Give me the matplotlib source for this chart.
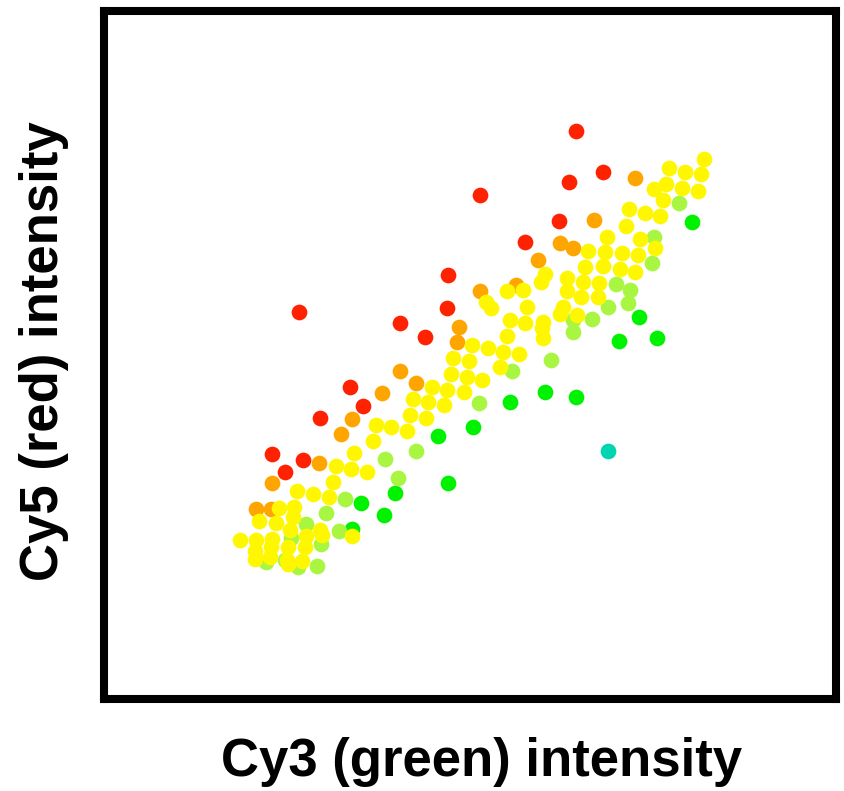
import matplotlib
matplotlib.use("Agg")
import matplotlib.pyplot as plt

# spot intensities (arbitrary units), grouped by log-ratio colour class
red_x = [472, 499, 465, 376, 455, 421, 344, 343, 195, 296, 321, 246, 259, 216, 168, 199, 181]
red_y = [568, 527, 517, 504, 478, 457, 424, 391, 387, 376, 362, 312, 293, 281, 245, 239, 227]

orange_x = [531, 490, 456, 469, 434, 376, 412, 355, 353, 296, 312, 278, 248, 237, 215, 168, 152, 167]
orange_y = [521, 479, 456, 451, 439, 408, 414, 372, 357, 328, 316, 306, 280, 265, 236, 216, 190, 190]

yellow_x = [600, 565, 581, 597, 562, 550, 578, 594, 559, 525, 541, 556, 522, 503, 536, 551,
            534, 484, 501, 518, 481, 499, 516, 531, 463, 479, 495, 463, 441, 437, 403, 419,
            477, 494, 382, 387, 423, 459, 456, 406, 421, 439, 438, 473, 403, 439, 368, 384,
            399, 415, 365, 396, 363, 378, 360, 349, 347, 328, 343, 309, 324, 340, 306, 322,
            272, 287, 303, 269, 250, 232, 247, 263, 229, 193, 209, 225, 175, 190, 189, 155,
            172, 186, 216, 218, 202, 248, 136, 152, 168, 151, 167, 184, 201, 151, 166, 183,
            184, 198]
yellow_y = [540, 531, 527, 525, 515, 510, 511, 508, 499, 490, 486, 483, 473, 462, 460, 451,
            444, 448, 447, 446, 432, 433, 430, 427, 421, 417, 416, 408, 425, 417, 408, 409,
            402, 402, 397, 391, 392, 392, 385, 379, 376, 377, 371, 384, 363, 361, 354, 351,
            347, 345, 338, 332, 322, 319, 307, 341, 325, 312, 309, 300, 297, 294, 284, 281,
            274, 272, 268, 258, 246, 233, 230, 227, 217, 208, 205, 202, 191, 192, 182, 178,
            176, 169, 169, 164, 163, 163, 159, 159, 160, 148, 152, 152, 152, 140, 142, 139,
            135, 138]

lgreen_x = [550, 575, 548, 512, 526, 524, 504, 469, 488, 469, 447, 408, 375, 312, 281, 294,
            241, 222, 202, 235, 217, 187, 162, 181, 194, 213]
lgreen_y = [462, 496, 436, 415, 409, 396, 392, 379, 380, 367, 339, 328, 296, 248, 240, 221,
            200, 186, 175, 168, 155, 161, 137, 139, 132, 133]

green_x = [588, 535, 515, 553, 441, 472, 406, 369, 334, 344, 291, 280, 257, 248]
green_y = [477, 382, 358, 361, 307, 302, 297, 272, 263, 216, 206, 184, 196, 170]

teal_x = [504]
teal_y = [248]

fig = plt.figure(figsize=(8.45, 7.91), dpi=100)
ax = fig.add_axes([104 / 845, 1 - 699 / 791, 732 / 845, 688 / 791])

size = 128
ax.scatter(green_x, green_y, s=size, c="#00f200", lw=0, zorder=2)
ax.scatter(teal_x, teal_y, s=size, c="#00d4b0", lw=0, zorder=2)
ax.scatter(red_x, red_y, s=size, c="#ff2200", lw=0, zorder=2)
ax.scatter(orange_x, orange_y, s=size, c="#ffa500", lw=0, zorder=2)
ax.scatter(lgreen_x, lgreen_y, s=size, c="#a8f542", lw=0, zorder=3)
ax.scatter(yellow_x, yellow_y, s=size, c="#fff700", lw=0, zorder=3)

ax.set_xlim(0, 732)
ax.set_ylim(0, 688)
ax.set_xticks([])
ax.set_yticks([])
for sp in ax.spines.values():
    sp.set_linewidth(5.8)
    sp.set_color("black")

font = dict(family=["Liberation Sans", "DejaVu Sans"], weight="bold", size=38)
fig.text(482 / 845, 1 - 762 / 791, "Cy3 (green) intensity", ha="center", va="center", **font)
fig.text(44 / 845, 1 - 351 / 791, "Cy5 (red) intensity", ha="center", va="center",
         rotation=90, **font)

fig.savefig("out.png", dpi=100, facecolor="white")
